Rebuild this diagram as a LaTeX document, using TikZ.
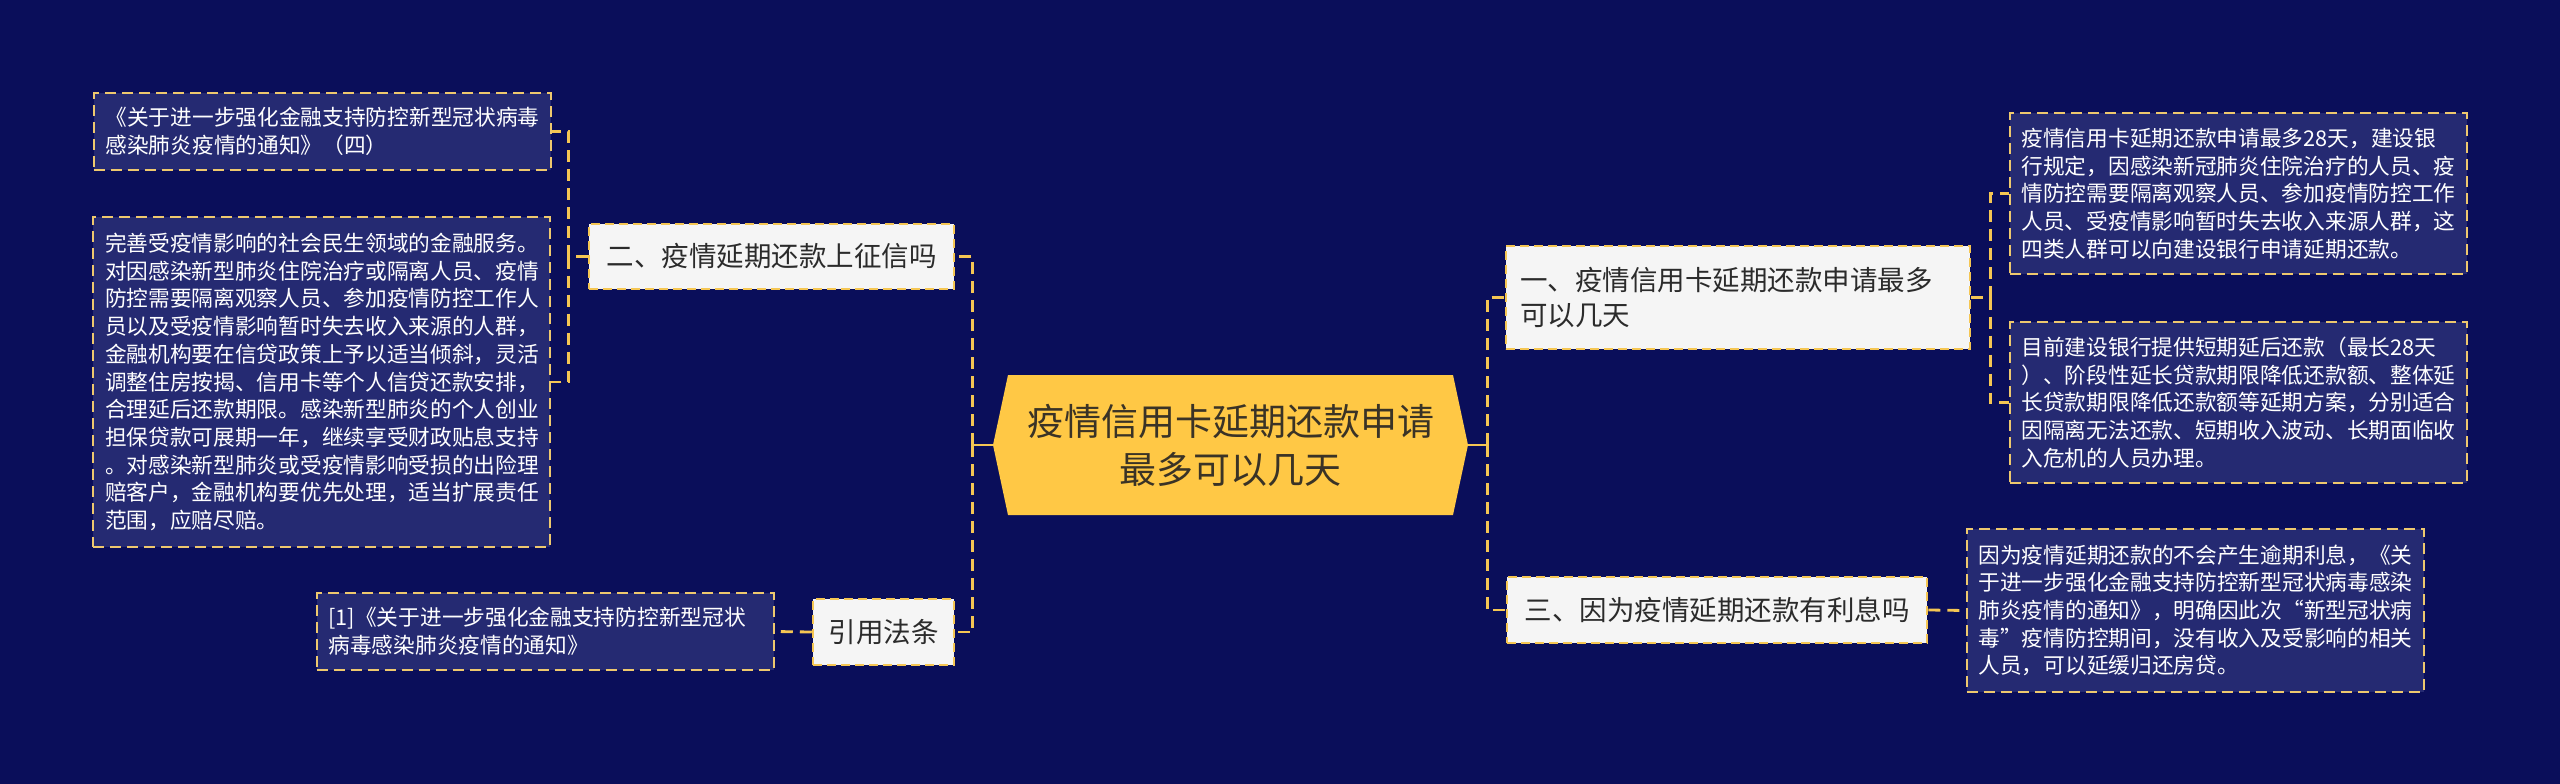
\documentclass[tikz,border=0pt]{standalone}
\usepackage{fontspec}
\newfontfamily\cjk{Noto Sans CJK SC}
\usetikzlibrary{calc}
\definecolor{bg}{HTML}{0A0E5A}
\definecolor{leaffill}{HTML}{252A72}
\definecolor{gold}{HTML}{F5C653}
\definecolor{leafline}{HTML}{EEC86E}
\definecolor{hexfill}{HTML}{FFC845}
\definecolor{boxfill}{HTML}{F5F5F5}
\definecolor{darktext}{HTML}{2B2B2B}
\definecolor{hextext}{HTML}{3A3326}
\begin{document}
\begin{tikzpicture}[x=1pt,y=-1pt,
 leaf/.style={draw=leafline, line width=2pt, dash pattern=on 11pt off 6pt, fill=leaffill, text=white,
   font=\cjk\fontsize{21.7}{27.7}\selectfont, align=left, text width=433pt, inner xsep=12pt, inner ysep=3pt, anchor=center},
 branch/.style={draw=gold, line width=2.5pt, dash pattern=on 9pt off 5pt, fill=boxfill, text=darktext,
   font=\cjk\fontsize{27.5}{35}\selectfont, align=left, inner xsep=14pt, inner ysep=3pt, anchor=center},
 link/.style={draw=gold, line width=2.8pt, dash pattern=on 12pt off 7pt},
 stub/.style={draw=gold, line width=2.8pt}]
\useasboundingbox (0,0) rectangle (2560,784);
\fill[bg] (0,0) rectangle (2560,784);

% centre
\fill[hexfill] (993,445) -- (1008,375) -- (1453,375) -- (1468,445) -- (1453,515) -- (1008,515) -- cycle;
\node[minimum width=475pt, minimum height=140pt, inner sep=0pt, align=center, text=hextext,
  font=\cjk\fontsize{37}{48}\selectfont] (c) at (1230.5,445) {疫情信用卡延期还款申请\\最多可以几天};

% left branches
\node[branch, minimum width=365pt, minimum height=65pt] (b2) at (771.5,256.5) {二、疫情延期还款上征信吗};
\node[branch, minimum width=141pt, minimum height=66pt] (b4) at (883.5,632) {引用法条};

\node[leaf, minimum height=77pt] (l1) at (322,131.5) {《关于进一步强化金融支持防控新型冠状病毒\\感染肺炎疫情的通知》（四）};
\node[leaf, minimum height=330pt] (l2) at (321.5,382) {完善受疫情影响的社会民生领域的金融服务。\\对因感染新型肺炎住院治疗或隔离人员、疫情\\防控需要隔离观察人员、参加疫情防控工作人\\员以及受疫情影响暂时失去收入来源的人群，\\金融机构要在信贷政策上予以适当倾斜，灵活\\调整住房按揭、信用卡等个人信贷还款安排，\\合理延后还款期限。感染新型肺炎的个人创业\\担保贷款可展期一年，继续享受财政贴息支持\\。对感染新型肺炎或受疫情影响受损的出险理\\赔客户，金融机构要优先处理，适当扩展责任\\范围，应赔尽赔。};
\node[leaf, minimum height=77pt] (l4) at (545,631.5) {[1]《关于进一步强化金融支持防控新型冠状\\病毒感染肺炎疫情的通知》};

% right branches
\node[branch, text width=436pt, minimum width=464pt, minimum height=103pt] (b1) at (1738,297.5) {一、疫情信用卡延期还款申请最多\\可以几天};
\node[branch, minimum width=420pt, minimum height=66pt] (b3) at (1717,610) {三、因为疫情延期还款有利息吗};

\node[leaf, minimum height=161pt] (r1) at (2238,193.5) {疫情信用卡延期还款申请最多28天，建设银\\行规定，因感染新冠肺炎住院治疗的人员、疫\\情防控需要隔离观察人员、参加疫情防控工作\\人员、受疫情影响暂时失去收入来源人群，这\\四类人群可以向建设银行申请延期还款。};
\node[leaf, minimum height=161pt] (r2) at (2238,402.5) {目前建设银行提供短期延后还款（最长28天\\）、阶段性延长贷款期限降低还款额、整体延\\长贷款期限降低还款额等延期方案，分别适合\\因隔离无法还款、短期收入波动、长期面临收\\入危机的人员办理。};
\node[leaf, minimum height=163pt] (r3) at (2195,610.5) {因为疫情延期还款的不会产生逾期利息，《关\\于进一步强化金融支持防控新型冠状病毒感染\\肺炎疫情的通知》，明确因此次“新型冠状病\\毒”疫情防控期间，没有收入及受影响的相关\\人员，可以延缓归还房贷。};

% connectors
\coordinate (lj) at ($(c.west)+(-20,0)$);
\coordinate (rj) at ($(c.east)+(19,0)$);
\draw[stub] (c.west) -- (lj);
\draw[stub] (c.east) -- (rj);
\draw[link] (lj) |- (b2.east);
\draw[link] (lj) |- (b4.east);
\draw[link] (rj) |- (b1.west);
\draw[link] (rj) |- (b3.west);

\coordinate (j2) at ($(b2.west)+(-19,0)$);
\draw[link] (b2.west) -- (j2) |- (l1.east);
\draw[link] (j2) |- (l2.east);
\draw[link] (b4.west) -- (l4.east);

\coordinate (j1) at ($(b1.east)+(19,0)$);
\draw[link] (b1.east) -- (j1) |- (r1.west);
\draw[link] (j1) |- (r2.west);
\draw[link] (b3.east) -- (r3.west);
\end{tikzpicture}
\end{document}
